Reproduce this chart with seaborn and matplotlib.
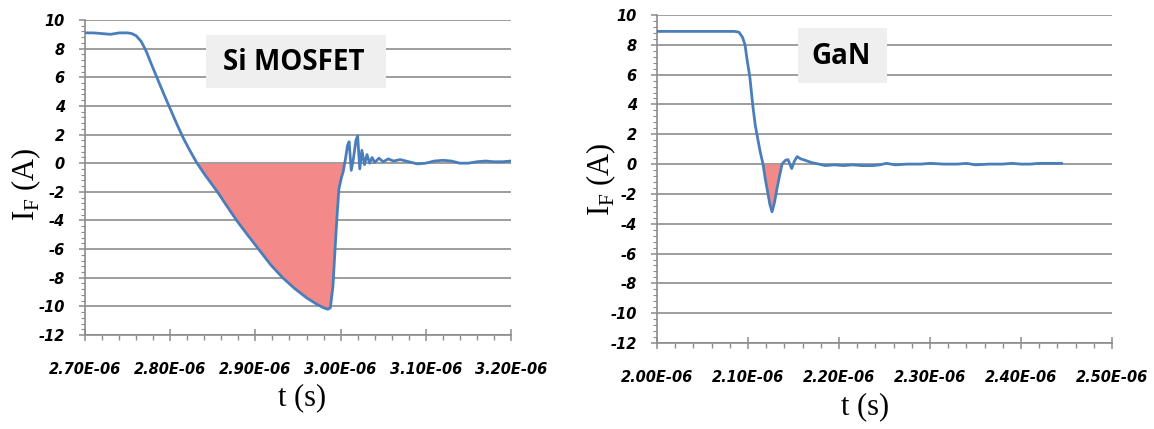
import numpy as np
import pandas as pd
import matplotlib
matplotlib.use("Agg")
import matplotlib.pyplot as plt
from matplotlib.patches import Rectangle
from matplotlib.ticker import MultipleLocator, FuncFormatter
import seaborn as sns

# Reverse recovery current, Si MOSFET body diode (time in us, current in A)
si_t_us = [2.700, 2.710, 2.720, 2.730, 2.735, 2.740, 2.745, 2.750, 2.755, 2.760,
           2.766, 2.772, 2.778, 2.785, 2.792, 2.800, 2.808, 2.815, 2.822, 2.8315,
           2.840, 2.848, 2.856, 2.866, 2.878, 2.890, 2.905, 2.918, 2.932, 2.946,
           2.960, 2.972, 2.980, 2.985, 2.988, 2.991, 2.9935, 2.9957, 2.998, 3.001,
           3.003, 3.006, 3.008, 3.010, 3.0125, 3.015, 3.018, 3.020, 3.0225, 3.025,
           3.028, 3.031, 3.034, 3.037, 3.040, 3.045, 3.050, 3.056, 3.062, 3.070,
           3.080, 3.090, 3.100, 3.110, 3.120, 3.130, 3.140, 3.150, 3.160, 3.170,
           3.180, 3.190, 3.200]
si_i = [9.1, 9.1, 9.05, 9.0, 9.05, 9.1, 9.1, 9.1, 9.05, 8.9,
        8.5, 7.8, 6.9, 5.9, 4.9, 3.8, 2.7, 1.8, 1.0, 0.0,
        -0.75, -1.4, -2.05, -2.95, -4.0, -4.95, -6.1, -7.1, -8.0, -8.75,
        -9.4, -9.85, -10.1, -10.2, -10.1, -8.6, -6.0, -3.8, -1.8, -1.0,
        -0.6, 0.4, 1.2, 1.5, -0.5, 0.3, 1.6, 1.9, -0.4, 0.9,
        -0.1, 0.6, 0.0, 0.4, 0.05, 0.35, 0.1, 0.3, 0.15, 0.25,
        0.1, -0.05, 0.0, 0.15, 0.2, 0.15, 0.0, 0.0, 0.1, 0.15,
        0.1, 0.1, 0.15]
si_fill_us = (2.8315, 3.003)

# Reverse recovery current, GaN
gan_t_us = [2.000, 2.050, 2.085, 2.090, 2.094, 2.0967, 2.099, 2.102, 2.1055, 2.108,
            2.111, 2.1135, 2.1165, 2.119, 2.122, 2.124, 2.1264, 2.129, 2.132, 2.135,
            2.1374, 2.141, 2.144, 2.148, 2.151, 2.154, 2.158, 2.163, 2.170, 2.178,
            2.185, 2.195, 2.205, 2.215, 2.225, 2.237, 2.245, 2.252, 2.262, 2.275,
            2.290, 2.300, 2.315, 2.330, 2.340, 2.350, 2.365, 2.380, 2.390, 2.400,
            2.410, 2.420, 2.430, 2.445]
gan_i = [8.9, 8.9, 8.9, 8.85, 8.5, 8.0, 7.0, 5.85, 3.8, 2.6,
         1.6, 0.8, 0.0, -1.0, -2.0, -2.7, -3.2, -2.6, -1.6, -0.7,
         0.0, 0.25, 0.3, -0.3, 0.2, 0.5, 0.35, 0.25, 0.1, 0.0,
         -0.1, -0.05, -0.1, -0.05, -0.1, -0.1, -0.05, 0.05, -0.05, 0.0,
         0.0, 0.05, 0.0, 0.0, 0.05, -0.05, 0.0, 0.0, 0.05, 0.0,
         0.0, 0.05, 0.05, 0.05]
gan_fill_us = (2.1165, 2.1374)

panel_titles = ["Si MOSFET", "GaN"]
x_ranges_us = [(2.70, 3.20), (2.00, 2.50)]
y_ticks = list(range(-12, 11, 2))

LINE = "#4a7ebb"
FILL = "#f4898a"
GRID = "#8c8c8c"

sns.set_style("white")
plt.rcParams["font.family"] = ["DejaVu Sans"]
plt.rcParams["axes.unicode_minus"] = False
plt.rcParams["mathtext.fontset"] = "custom"
plt.rcParams["mathtext.rm"] = "Liberation Serif"

fig = plt.figure(figsize=(11.54, 4.29), dpi=100)
ax_si = fig.add_axes([85 / 1154, 1 - 335 / 429, 426 / 1154, 315 / 429])
ax_gan = fig.add_axes([657 / 1154, 1 - 343 / 429, 455 / 1154, 328 / 429])

panels = [
    (ax_si, si_t_us, si_i, si_fill_us, (0.284, 0.784, 0.4225, 0.168), (0.49, 0.865), (-0.099, 0.48), (0.509, -0.152)),
    (ax_gan, gan_t_us, gan_i, gan_fill_us, (0.31, 0.793, 0.196, 0.168), (0.404, 0.872), (-0.086, 0.5), (0.457, -0.149)),
]

sci = FuncFormatter(lambda v, p: f"{v:.2E}")

for k, (ax, t_us, cur, fill_us, box, txt, ylab, xlab) in enumerate(panels):
    df = pd.DataFrame({"t": np.array(t_us) * 1e-6, "i": cur})
    sns.lineplot(data=df, x="t", y="i", ax=ax, color=LINE, linewidth=2.0,
                 estimator=None, sort=False, zorder=4)

    m = (df["t"] >= fill_us[0] * 1e-6 - 1e-12) & (df["t"] <= fill_us[1] * 1e-6 + 1e-12)
    ax.fill_between(df["t"][m], df["i"][m], 0, color=FILL, linewidth=0, zorder=3)

    lo, hi = x_ranges_us[k]
    ax.set_xlim(lo * 1e-6, hi * 1e-6)
    ax.set_ylim(-12, 10)
    ax.set_yticks(y_ticks)
    ax.yaxis.set_minor_locator(MultipleLocator(0.4))
    ax.xaxis.set_major_locator(MultipleLocator(0.1e-6))
    ax.xaxis.set_minor_locator(MultipleLocator(0.02e-6))
    ax.xaxis.set_major_formatter(sci)

    ax.grid(axis="y", which="major", color=GRID, linewidth=1.2, zorder=1)
    ax.set_axisbelow(True)
    for s in ["top", "right"]:
        ax.spines[s].set_visible(False)
    for s in ["left", "bottom"]:
        ax.spines[s].set_color(GRID)
        ax.spines[s].set_linewidth(1.2)

    ax.tick_params(axis="x", which="major", direction="inout", length=9, width=1.1,
                   color=GRID, pad=15)
    ax.tick_params(axis="x", which="minor", direction="out", length=3.5, width=1.0, color=GRID)
    ax.tick_params(axis="y", which="major", direction="out", length=4.5, width=1.1,
                   color=GRID, pad=10)
    ax.tick_params(axis="y", which="minor", direction="out", length=3, width=0.8, color=GRID)
    ax.tick_params(which="both", bottom=True, left=True, labelcolor="black")
    for lab in ax.get_xticklabels() + ax.get_yticklabels():
        lab.set_fontweight("bold")
        lab.set_fontstyle("italic")
        lab.set_fontsize(10.5)

    ax.add_patch(Rectangle((box[0], box[1]), box[2], box[3], transform=ax.transAxes,
                           facecolor="#efefef", edgecolor="none", zorder=5))
    ax.text(txt[0], txt[1], panel_titles[k], transform=ax.transAxes, ha="center",
            va="center", fontsize=20, fontweight="bold", color="black",
            family=["Open Sans", "DejaVu Sans"], zorder=6)

    ax.set_ylabel(r"I$_\mathrm{F}$ (A)", family="Liberation Serif", fontsize=22, color="black")
    ax.set_xlabel("t (s)", family="Liberation Serif", fontsize=22, color="black")
    ax.yaxis.set_label_coords(*ylab)
    ax.xaxis.set_label_coords(*xlab)

fig.savefig("out.png", dpi=100)
